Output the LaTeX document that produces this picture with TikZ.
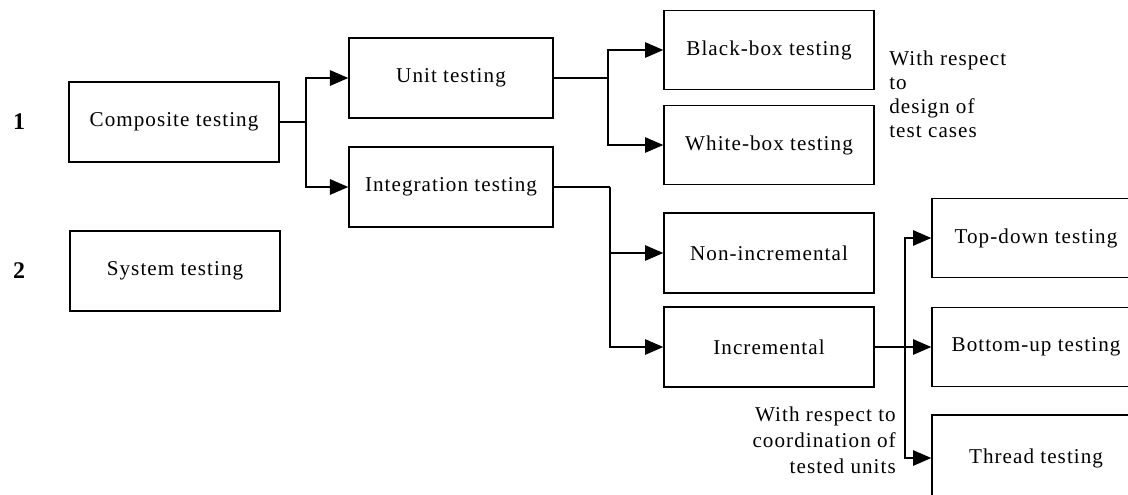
\documentclass[tikz,border=0pt]{standalone}
\usepackage{fontspec}
\setmainfont{Liberation Serif}[LetterSpace=5]
\usetikzlibrary{arrows.meta}

\begin{document}
\begin{tikzpicture}[x=0.025cm, y=-0.025cm,
    box/.style={draw, line width=1pt, inner sep=0pt, minimum height=2cm, minimum width=5.25cm, font=\fontsize{15}{18}\selectfont},
    arr/.style={line width=1pt, -{Triangle[length=13pt,width=11pt]}},
    note/.style={inner sep=0pt, font=\fontsize{15}{17}\selectfont}]
    \useasboundingbox (0,0) rectangle (1128,494);
    \clip (0,0) rectangle (1128,494);

    % Numbers
    \node[font=\fontsize{17}{20}\selectfont\bfseries] (lab1) at (19,122) {1};
    \node[font=\fontsize{17}{20}\selectfont\bfseries] (lab2) at (19,271) {2};

    % Boxes
    \node[box] (comp) at (174,122) {Composite testing};
    \node[box] (sys) at (175,271) {System testing};
    \node[box, minimum width=5.1cm] (unit) at (451,78) {Unit testing};
    \node[box, minimum width=5.1cm] (integ) at (451,187) {Integration testing};
    \node[box, minimum height=1.97cm] (black) at (769,50) {Black-box testing};
    \node[box, minimum height=1.97cm] (white) at (769,145) {White-box testing};
    \node[box] (nonincr) at (769,253) {Non-incremental};
    \node[box] (incr) at (769,347) {Incremental};
    \node[box, minimum width=5.2cm, minimum height=1.97cm] (topdown) at (1036,238) {Top-down testing};
    \node[box, minimum width=5.2cm, minimum height=1.97cm] (bottomup) at (1036,347) {Bottom-up testing};
    \node[box, minimum width=5.2cm, minimum height=2.15cm] (thread) at (1036,458) {Thread testing};

    % Notes
    \node[note, anchor=west, align=left] (design) at (889,94) {With respect\\to\\design of\\test cases};
    \node[note, anchor=east, align=right, font=\fontsize{15}{18.5}\selectfont] (coord) at (896,440) {With respect to\\coordination of\\tested units};

    % Branches
    \coordinate (j1) at (306,122);
    \coordinate (j2) at (608,78);
    \coordinate (j3) at (610,187);
    \coordinate (j4) at (905,347);
    \draw[line width=1pt] (comp.east) -- (j1);
    \draw[arr] (j1) |- (unit.west);
    \draw[arr] (j1) |- (integ.west);
    \draw[line width=1pt] (unit.east) -- (j2);
    \draw[arr] (j2) |- (black.west);
    \draw[arr] (j2) |- (white.west);
    \draw[line width=1pt] (integ.east) -- (j3);
    \draw[arr] (j3) |- (nonincr.west);
    \draw[arr] (j3) |- (incr.west);
    \draw[line width=1pt] (incr.east) -- (j4);
    \draw[arr] (j4) |- (topdown.west);
    \draw[arr] (j4) -- (bottomup.west);
    \draw[arr] (j4) |- (thread.west);
\end{tikzpicture}
\end{document}
